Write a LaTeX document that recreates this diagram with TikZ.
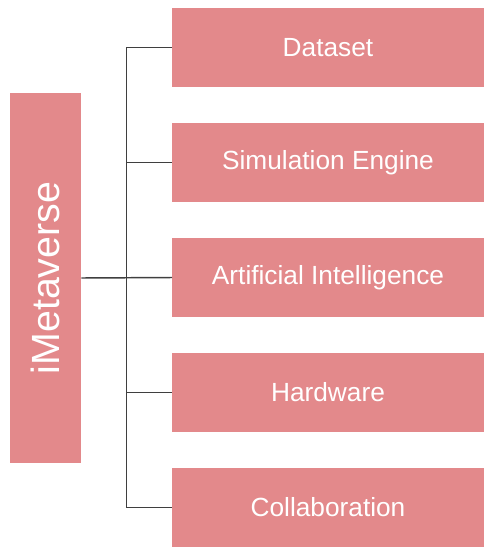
\documentclass[tikz,border=0pt]{standalone}
\usepackage{fontspec}
\setmainfont{Liberation Sans}
\usetikzlibrary{positioning}
\definecolor{boxpink}{HTML}{E3898B}
\definecolor{linegray}{HTML}{3F3F3F}

\begin{document}
\begin{tikzpicture}[x=0.75pt,y=-0.75pt,
  every node/.style={fill=boxpink,text=white,inner sep=0pt,outer sep=0pt},
  branch/.style={minimum width=234pt,minimum height=59.25pt,font=\fontsize{19.7}{24}\selectfont},
  conn/.style={draw=linegray,line width=1.1pt}]

\useasboundingbox (0,0) rectangle (484,547);

% root box, text runs upwards
\node (meta) at (45.75,278) [rotate=90,minimum width=277.5pt,minimum height=53.6pt,
  font=\fontsize{29.5}{34}\selectfont] {iMetaverse};

% branch boxes
\node (data) at (328,47.5) [branch] {Dataset};
\node (sim) [branch,below=27pt of data] {Simulation Engine};
\node (ai) [branch,below=27pt of sim] {Artificial Intelligence};
\node (hw) [branch,below=27pt of ai] {Hardware};
\node (collab) [branch,below=27pt of hw] {Collaboration};

\coordinate (trunk) at (126.7,278);

% connectors
\draw[conn] (data.west) -- (data.west -| trunk) -- (collab.west -| trunk) -- (collab.west);
\foreach \b in {sim,hw} {
    \draw[conn] (\b.west -| trunk) -- (\b.west);
}
\draw[conn] (meta.south) -- (ai.west);
\end{tikzpicture}
\end{document}
